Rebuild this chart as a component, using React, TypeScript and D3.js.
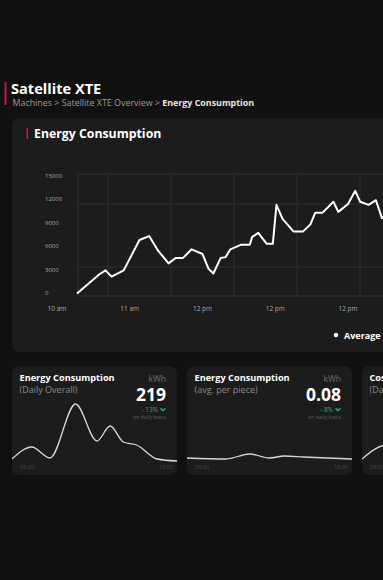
import React from 'react';
import * as d3 from 'd3';

const W = 383;
const H = 580;

// main chart data
const xTickMinutes = [0, 60, 120, 180, 240];
const xTickLabels = ['10 am', '11 am', '12 pm', '12 pm', '12 pm'];
const yTicks = [0, 3000, 6000, 9000, 12000, 15000];
const timeMin = [17, 35, 40, 45, 55, 68, 76, 83, 92, 98, 104, 111, 120, 125, 129, 135, 139, 143, 152, 159, 161, 166, 173, 178, 181, 186, 195, 203, 209, 213, 219, 228, 232, 240, 246, 250, 257, 263, 268, 276];
const avgKwh = [0, 2400, 2900, 2100, 2900, 6800, 7300, 5500, 3800, 4500, 4500, 5600, 5000, 3100, 2500, 4500, 4600, 5600, 6200, 6200, 7200, 7700, 6300, 6300, 11300, 9500, 7900, 7900, 8800, 10300, 10300, 11700, 10400, 11400, 13100, 11700, 11300, 11900, 9600, 10400];

// KPI cards
const cardTitles = ['Energy Consumption', 'Energy Consumption', 'Cost'];
const cardSubtitles = ['(Daily Overall)', '(avg. per piece)', '(Daily Overall)'];
const cardUnits = ['kWh', 'kWh'];
const cardValues = ['219', '0.08'];
const cardChanges = ['- 13%', '- 8%'];
const sparkHours1 = [8, 9.2, 10.3, 11.85, 13.15, 13.95, 14.75, 15.55, 16.8, 18];
const sparkVals1 = [11, 23, 12, 66, 29, 44, 28, 25, 11, 9];
const sparkHours2 = [8, 10.35, 11.8, 13, 13.9, 15.05, 18];
const sparkVals2 = [12, 11, 16, 12, 14, 13, 11];
const sparkHours3 = [8, 9.5, 11, 13, 15, 18];
const sparkVals3 = [11, 25, 20, 30, 18, 12];
const sparkHours = [sparkHours1, sparkHours2, sparkHours3];
const sparkVals = [sparkVals1, sparkVals2, sparkVals3];

const FONT = "'Open Sans', sans-serif";
const BG = '#111111';
const CARD = '#1c1c1c';
const ACCENT = '#c2184f';
const GREEN = '#2fae6e';

export default function App() {
  const plotLeft = 78;
  const plotTop = 174;
  const plotBottom = 296;
  const plotRight = 460;

  const x = d3.scaleLinear().domain([0, 60]).range([57, 129.75]);
  const y = d3.scaleLinear().domain([0, 15000]).range([293, 176]);

  const line = d3
    .line<number>()
    .x((_, i) => x(timeMin[i]))
    .y((d) => y(d))
    .curve(d3.curveLinear);

  const gridStep = 63;
  const vGrid: number[] = [];
  for (let gx = plotLeft + 30; gx < plotRight; gx += gridStep) vGrid.push(gx);
  const hGrid: number[] = [];
  for (let gy = plotTop + 30; gy < plotBottom; gy += gridStep) hGrid.push(gy);

  const cardW = 165;
  const cardXs = [12, 187, 362];
  const cardTop = 366;
  const cardBottom = 475;
  const sy = d3.scaleLinear().domain([0, 70]).range([470, 400]);

  return (
    <svg
      width={W}
      height={H}
      style={{ position: 'fixed', left: 0, top: 0, display: 'block' }}
      fontFamily={FONT}
    >
      <defs>
        <clipPath id="plotClip">
          <rect x={plotLeft} y={plotTop} width={plotRight - plotLeft} height={plotBottom - plotTop} />
        </clipPath>
        {cardXs.map((cx, i) => (
          <clipPath id={`cardClip${i}`} key={i}>
            <rect x={cx} y={cardTop} width={cardW} height={cardBottom - cardTop} rx={7} />
          </clipPath>
        ))}
      </defs>
      <rect x={0} y={0} width={W} height={H} fill={BG} />

      {/* header */}
      <rect x={4.5} y={82} width={2} height={23} fill={ACCENT} />
      <text x={11} y={94} fill="#ffffff" fontSize={14.6} fontWeight={700}>
        Satellite XTE
      </text>
      <text x={12.5} y={105.5} fontSize={8.9}>
        <tspan fill="#9a9a9a">Machines &gt; Satellite XTE Overview &gt; </tspan>
        <tspan fill="#e6e6e6" fontWeight={700}>Energy Consumption</tspan>
      </text>

      {/* main card */}
      <rect x={12} y={118} width={440} height={234} rx={7} fill={CARD} />
      <rect x={26.5} y={128} width={1.6} height={11} fill={ACCENT} />
      <text x={34} y={138} fill="#ffffff" fontSize={12.3} fontWeight={700}>
        Energy Consumption
      </text>

      {/* grid */}
      <g clipPath="url(#plotClip)">
        {vGrid.map((gx, i) => (
          <line key={`v${i}`} x1={gx} x2={gx} y1={plotTop} y2={plotBottom} stroke="#2f2f2f" strokeWidth={1} />
        ))}
        {hGrid.map((gy, i) => (
          <line key={`h${i}`} x1={plotLeft} x2={plotRight} y1={gy} y2={gy} stroke="#2f2f2f" strokeWidth={1} />
        ))}
      </g>
      <line x1={plotLeft} x2={plotLeft} y1={plotTop} y2={plotBottom} stroke="#333" strokeWidth={1} />
      <line x1={plotLeft} x2={plotRight} y1={plotTop} y2={plotTop} stroke="#333" strokeWidth={1} />
      <line x1={plotLeft} x2={plotRight} y1={plotBottom} y2={plotBottom} stroke="#333" strokeWidth={1} />

      {/* y ticks */}
      {yTicks.map((t) => (
        <text key={t} x={45} y={y(t) + 2} fill="#a8a8a8" fontSize={6}>
          {t}
        </text>
      ))}
      {/* x ticks */}
      {xTickMinutes.map((m, i) => (
        <text key={i} x={x(m)} y={311} fill="#a8a8a8" fontSize={6.5} textAnchor="middle">
          {xTickLabels[i]}
        </text>
      ))}

      <path
        d={line(avgKwh) || ''}
        fill="none"
        stroke="#ffffff"
        strokeWidth={2}
        strokeLinejoin="round"
        strokeLinecap="round"
      />

      {/* legend */}
      <circle cx={336} cy={335} r={2.2} fill="#ffffff" />
      <text x={344} y={338.5} fill="#ffffff" fontSize={9} fontWeight={700}>
        Average
      </text>

      {/* KPI cards */}
      {cardXs.map((cx, i) => {
        const sx = d3.scaleLinear().domain([8, 18]).range([cx, cx + cardW]);
        const sl = d3
          .line<number>()
          .x((_, j) => sx(sparkHours[i][j]))
          .y((d) => sy(d))
          .curve(d3.curveMonotoneX);
        const right = cx + cardW - 11;
        const full = i < cardValues.length;
        return (
          <g key={i}>
            <rect x={cx} y={cardTop} width={cardW} height={cardBottom - cardTop} rx={7} fill={CARD} />
            <g clipPath={`url(#cardClip${i})`}>
              <path d={sl(sparkVals[i]) || ''} fill="none" stroke="#d8d8d8" strokeWidth={1.3} />
              <text x={cx + 8} y={468.5} fill="#4a4a4a" fontSize={5.5}>
                08:00
              </text>
              {full && (
                <text x={cx + cardW - 4} y={468.5} fill="#4a4a4a" fontSize={5.5} textAnchor="end">
                  18:00
                </text>
              )}
              <text x={cx + 7.5} y={381} fill="#ffffff" fontSize={9.2} fontWeight={700}>
                {cardTitles[i]}
              </text>
              <text x={cx + 7.5} y={392.8} fill="#8a8a8a" fontSize={9}>
                {cardSubtitles[i]}
              </text>
              {full && (
                <g>
                  <text x={right} y={382} fill="#6f6f6f" fontSize={8.5} textAnchor="end">
                    {cardUnits[i]}
                  </text>
                  <text x={right} y={401} fill="#ffffff" fontSize={17.5} fontWeight={700} textAnchor="end">
                    {cardValues[i]}
                  </text>
                  <text x={right - 8} y={411.5} fill={GREEN} fontSize={6.5} textAnchor="end">
                    {cardChanges[i]}
                  </text>
                  <path
                    d={`M${right - 5.5},${408.3} L${right - 3},${410.6} L${right - 0.5},${408.3}`}
                    fill="none"
                    stroke={GREEN}
                    strokeWidth={1.4}
                  />
                  <text x={right} y={419} fill="#5e5e5e" fontSize={5.3} textAnchor="end">
                    on daily basis
                  </text>
                </g>
              )}
            </g>
          </g>
        );
      })}
    </svg>
  );
}
